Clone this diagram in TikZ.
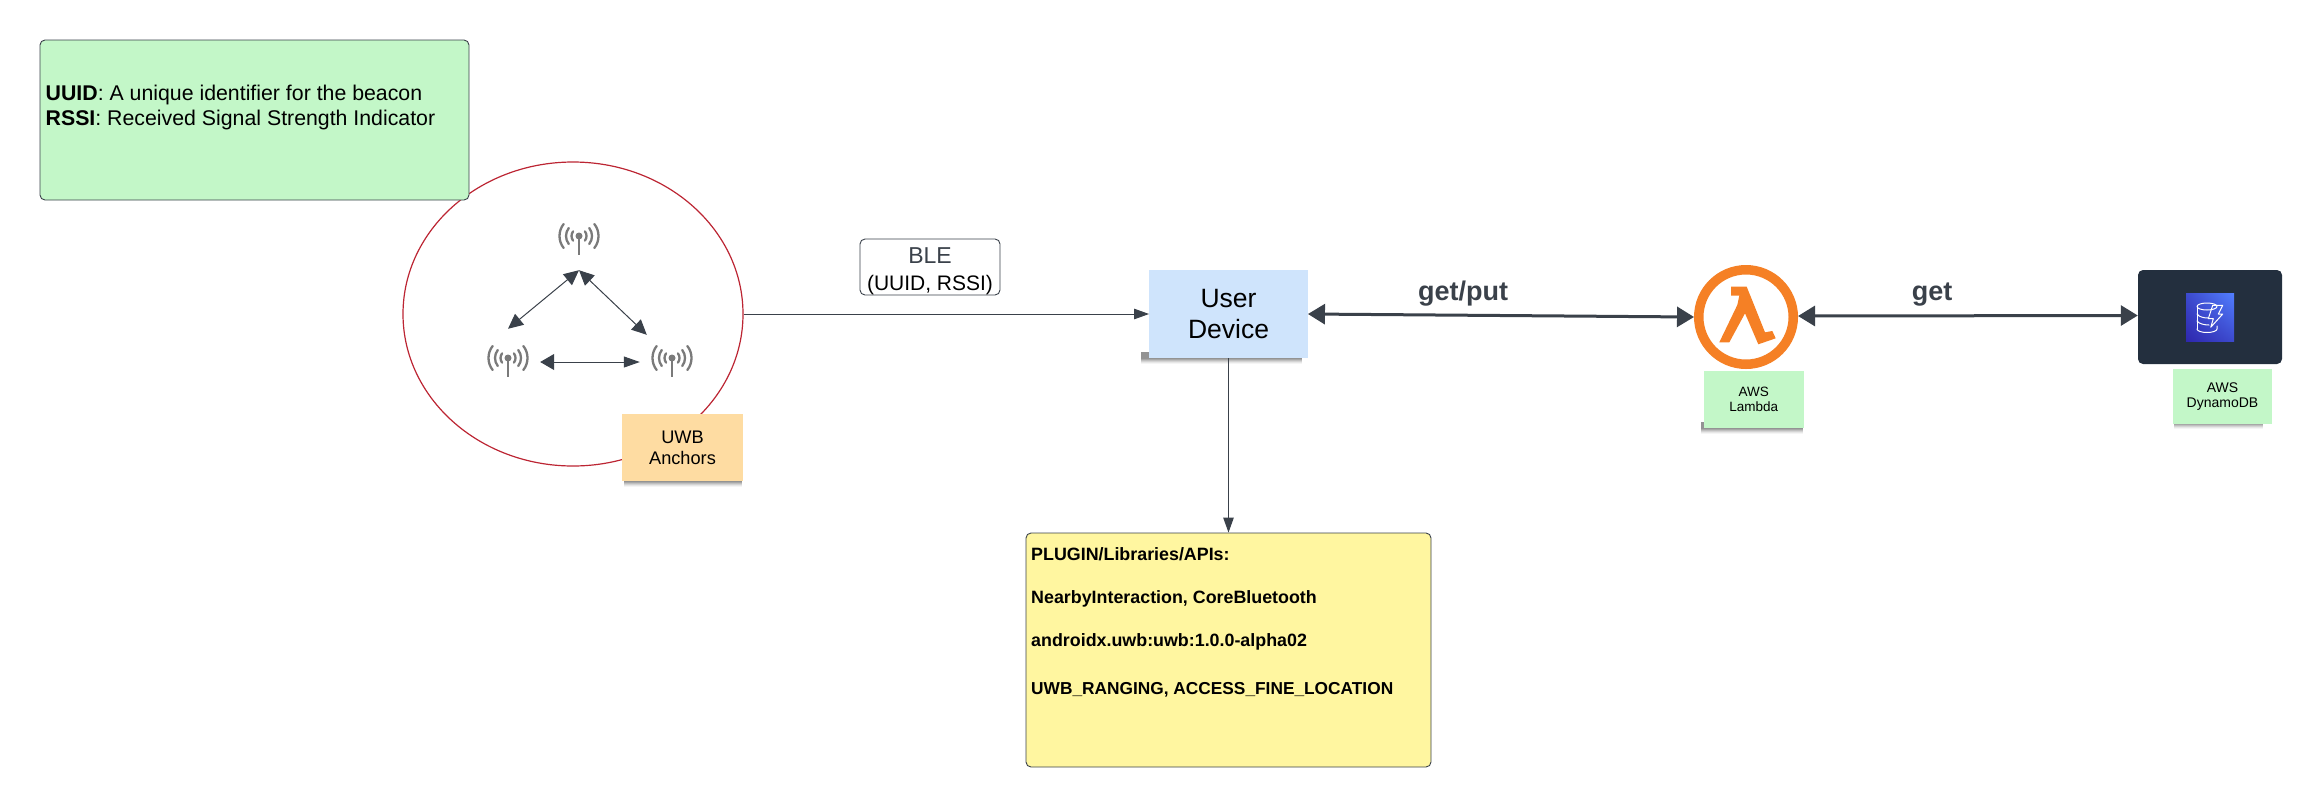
\documentclass[tikz,border=0pt]{standalone}
\usepackage{fontspec}
\setmainfont{Liberation Sans}
\usetikzlibrary{arrows.meta,calc,shapes.geometric,shadings}
\definecolor{ink}{HTML}{3A414A}
\definecolor{notegreen}{HTML}{C3F7C8}
\definecolor{noteyellow}{HTML}{FFF6A0}
\definecolor{noteblue}{HTML}{CFE4FC}
\definecolor{noteorange}{HTML}{FEDCA2}
\definecolor{ringred}{HTML}{BC2533}
\definecolor{lamorange}{HTML}{F58025}
\definecolor{awsdark}{HTML}{232F3E}
\definecolor{antgrey}{HTML}{7A7A7A}
\definecolor{dbdark}{HTML}{2E27AD}
\definecolor{dblight}{HTML}{527FFF}
\newcommand{\fsz}[1]{\fontsize{#1}{#1}\selectfont}
\newcommand{\noteshadow}[5]{% x1 x2 y bottom, left overhang, right inset
  \foreach \d/\o in {0.5/.12,1.5/.12,2.5/.10,3.5/.08,4.5/.06,5.5/.04}{
    \fill[black,opacity=\o] (#1-#4,#3-6) -- (#2-#5,#3-6) -- (#2-#5,#3+\d) -- (#1-#4,#3+\d) -- cycle;}}
\newcommand{\antennadraw}[1]{%
  \begin{scope}[shift={(#1)}]
   \fill[antgrey] (0,0) circle (3.5);
   \draw[antgrey,line width=2.6] (0,0) -- (0,19);
   \foreach \r in {7.5,13,19.5}{
     \draw[antgrey,line width=2.3,line cap=round] (-38:\r) arc[start angle=-38,end angle=38,radius=\r];
     \draw[antgrey,line width=2.3,line cap=round] (142:\r) arc[start angle=142,end angle=218,radius=\r];}
  \end{scope}}
\tikzset{
  box/.style={draw=ink,rounded corners=5,line width=.9,inner sep=0},
  note/.style={inner sep=0,align=center,text=black},
  antbox/.style={inner sep=0,minimum width=64,minimum height=66},
  thin link/.style={draw=ink,line width=1,-{Triangle[length=15,width=10.5]}},
  tri link/.style={draw=ink,line width=1,{Triangle[length=15,width=14]}-{Triangle[length=15,width=14]}},
  thick link/.style={draw=ink,line width=3,{Triangle[length=17,width=20]}-{Triangle[length=17,width=20]}},
  edge label/.style={inner sep=0,text=ink,font=\fsz{27}\bfseries},
  plugtext/.style={inner sep=0,anchor=base west,font=\fsz{17.85}\bfseries},
}
\begin{document}
\begin{tikzpicture}[x=1pt,y=1pt,yscale=-1]
\useasboundingbox (0,0) rectangle (2323,807);
% ellipse below the legend
\node[draw=ringred,line width=1.2,ellipse,inner sep=0,minimum width=340,minimum height=304] (ring) at (573,314) {};
% legend
\node[box,fill=notegreen,minimum width=429,minimum height=160] (legend) at (254.5,120) {};
\node[inner sep=0,anchor=base west,font=\fsz{21.3}] (legA) at (45.5,100) {\textbf{UUID}: A unique identifier for the beacon};
\node[inner sep=0,anchor=base west,font=\fsz{21.3}] (legB) at (45.5,125) {\textbf{RSSI}: Received Signal Strength Indicator};
% antennas
\node[antbox] (a1) at (579,237) {};
\node[antbox] (a2) at (508,362) {};
\node[antbox] (a3) at (672,362) {};
\antennadraw{579,236}
\antennadraw{508,358}
\antennadraw{672,358}
\coordinate (a3tip) at ($(a3.north west)+(7,6)$);
\draw[tri link] (a1.south) -- (a2.north);
\draw[tri link] (a1.south) -- (a3tip);
\draw[draw=ink,line width=1,{Triangle[length=14,width=16]}-{Triangle[length=16,width=11]}] (a2.east) -- (a3.west);
% anchors note
\noteshadow{622}{743}{481}{-2}{1}
\node[note,fill=noteorange,minimum width=121,minimum height=67,font=\fsz{18.2}] (anchors) at (682.5,447.5) {\vphantom{p}UWB\\[3pt]Anchors};
% user device
\noteshadow{1149}{1307.5}{358}{8}{6}
\node[note,fill=noteblue,minimum width=158.5,minimum height=88,font=\fsz{26.5}] (user) at (1228.5,314) {User\\[4pt]Device};
% BLE label and link
\draw[thin link] (ring.east) -- (user.west);
\node[box,fill=white,minimum width=140,minimum height=56] (ble) at (930,267) {};
\node[inner sep=0,anchor=base,text=ink,font=\fsz{23}] (bleA) at (930,263) {BLE};
\node[inner sep=0,anchor=base,font=\fsz{21}] (bleB) at (930,290) {(UUID, RSSI)};
% lambda
\node[circle,draw=lamorange,line width=9.5,inner sep=0,minimum size=94.5,fill=white] (lam) at (1746,317) {};
\fill[lamorange] (1731,286.7) -- (1746.7,286.7) -- (1765,332.3) -- (1772.3,331) -- (1775.7,338.3) -- (1758.3,344.3) -- (1745,313.3) -- (1729.3,342.3) -- (1719.3,342.3) -- (1737.3,305) -- (1739.3,295.7) -- (1731,295.7) -- cycle;
\noteshadow{1703.5}{1804}{428}{3}{1}
\node[note,fill=notegreen,minimum width=100.5,minimum height=57,font=\fsz{13.5}] (lamlabel) at (1753.75,399.5) {AWS\\[1pt]Lambda};
% dynamodb
\node[fill=awsdark,rounded corners=5,inner sep=0,minimum width=144,minimum height=94] (dyn) at (2210,317) {};
\shade[lower left=dbdark,lower right=dbdark!60!dblight,upper left=dbdark!60!dblight,upper right=dblight] (2186,341) rectangle (2234,293);
\begin{scope}[draw=white,line width=1,line cap=round,line join=round]
  \draw (2207,306.5) ellipse [x radius=10,y radius=3.5];
  \draw (2197,306.5) -- (2197,329);
  \draw (2197,329) arc[start angle=180,end angle=0,x radius=10,y radius=3.5] -- (2217,326);
  \draw (2197,314) .. controls (2199,317) and (2204,318) .. (2208,318);
  \draw (2197,321) .. controls (2199,324) and (2205,325) .. (2209,325);
  \draw[fill=none] (2212.7,305.3) -- (2222.7,305.3) -- (2218.3,314) -- (2222.7,314) -- (2210.7,327.3) -- (2213.3,318.7) -- (2208.3,318.7) -- cycle;
\end{scope}
\noteshadow{2173}{2272}{423}{-1}{9}
\node[note,fill=notegreen,minimum width=99,minimum height=55,font=\fsz{14}] (dynlabel) at (2222.5,396.5) {AWS\\[1pt]DynamoDB};
% main links
\draw[thick link] (user.east) -- (lam.west);
\draw[thick link] ($(lam.east)+(0,-1)$) -- ($(dyn.west)+(0,-1.5)$);
\node[edge label,anchor=base] (lget) at (1463,300) {get/put};
\node[edge label,anchor=base] (lg) at (1932,300) {get};
% plugins
\node[box,fill=noteyellow,minimum width=405,minimum height=234] (plug) at (1228.5,650) {};
\draw[thin link] (user.south) -- (plug.north);
\node[plugtext] (p1) at (1031,560) {PLUGIN/Libraries/APIs:};
\node[plugtext] (p2) at (1031,603) {NearbyInteraction, CoreBluetooth};
\node[plugtext] (p3) at (1031,646) {androidx.uwb:uwb:1.0.0-alpha02};
\node[plugtext,font=\fsz{17.3}\bfseries] (p4) at (1031,694) {UWB\_RANGING, ACCESS\_FINE\_LOCATION};
\end{tikzpicture}
\end{document}
